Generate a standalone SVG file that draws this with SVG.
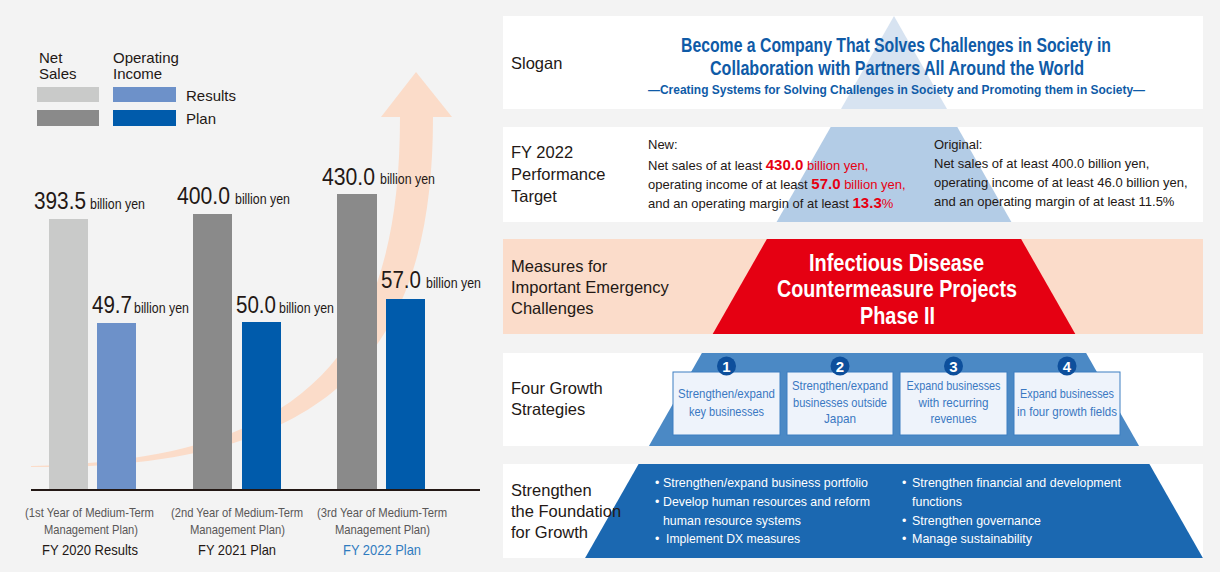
<svg xmlns="http://www.w3.org/2000/svg" width="1220" height="572" viewBox="0 0 1220 572">
<defs><style>
text{font-family:"Liberation Sans",Arial,sans-serif;fill:#231815}
.n{font-family:"Liberation Sans Narrow","Liberation Sans",Arial,sans-serif}
.lab{font-size:16.5px}
.leg{font-size:15px}
.big{font-size:23px}
.by{font-size:14.5px}
.sub{font-size:13px;fill:#595757}
.fy{font-size:15px}
.slo{font-weight:bold;fill:#0f5ba7}
.t13{font-size:13px}
.red{fill:#e60012}
.rb{fill:#e60012;font-weight:bold;font-size:15px}
.wt{fill:#fff;font-weight:bold;font-size:24px}
.box{fill:#eef3fb;stroke:#3d7fc2;stroke-width:1}
.bt{font-size:13.5px;fill:#3a78c2}
.num{fill:#fff;font-weight:bold;font-size:15px}
.bul{fill:#fff;font-size:13.5px}
.dot{fill:#fff;font-size:12.5px}
.panel{fill:#fff}
</style></defs>
<rect x="0" y="0" width="1220" height="572" fill="#f3f3f3"/>

<!-- Left chart -->
<g id="legend">
<text class="leg" x="39" y="63">Net</text>
<text class="leg" x="39" y="79">Sales</text>
<text class="leg" x="113" y="63">Operating</text>
<text class="leg" x="113" y="79">Income</text>
<rect x="37" y="87" width="62" height="15" fill="#c9cac9"/>
<rect x="113" y="87" width="63" height="15" fill="#6d91c9"/>
<rect x="37" y="110" width="62" height="16" fill="#8a8a8a"/>
<rect x="113" y="110" width="63" height="16" fill="#005bab"/>
<text class="leg" x="186" y="101">Results</text>
<text class="leg" x="186" y="124">Plan</text>
</g>
<g id="growth-arrow">
<path d="M31 466 C300 460 400 360 400 117 L381 117 L416 72 L452 117 L433 117 C433 350 335 470 31 467 Z" fill="#fbdcc9"/>
</g>
<g id="bars">
<rect x="49" y="219" width="39" height="271" fill="#c9cac9"/>
<rect x="97" y="323" width="39" height="167" fill="#6d91c9"/>
<rect x="193" y="214" width="39" height="276" fill="#8a8a8a"/>
<rect x="242" y="322" width="39" height="168" fill="#005bab"/>
<rect x="337" y="194" width="40" height="296" fill="#8a8a8a"/>
<rect x="386" y="299" width="39" height="191" fill="#005bab"/>
<line x1="31" y1="490" x2="480" y2="490" stroke="#231815" stroke-width="2"/>
</g>
<g id="values">
<text class="big" x="34" y="209" textLength="52" lengthAdjust="spacingAndGlyphs">393.5</text>
<text class="by n" x="90" y="209" textLength="55" lengthAdjust="spacingAndGlyphs">billion yen</text>
<text class="big" x="177" y="204" textLength="53" lengthAdjust="spacingAndGlyphs">400.0</text>
<text class="by n" x="235" y="204" textLength="55" lengthAdjust="spacingAndGlyphs">billion yen</text>
<text class="big" x="322" y="185" textLength="53" lengthAdjust="spacingAndGlyphs">430.0</text>
<text class="by n" x="380" y="184" textLength="55" lengthAdjust="spacingAndGlyphs">billion yen</text>
<text class="big" x="92" y="313" textLength="40" lengthAdjust="spacingAndGlyphs">49.7</text>
<text class="by n" x="134" y="313" textLength="55" lengthAdjust="spacingAndGlyphs">billion yen</text>
<text class="big" x="236" y="313" textLength="40" lengthAdjust="spacingAndGlyphs">50.0</text>
<text class="by n" x="279" y="313" textLength="55" lengthAdjust="spacingAndGlyphs">billion yen</text>
<text class="big" x="381" y="288" textLength="40" lengthAdjust="spacingAndGlyphs">57.0</text>
<text class="by n" x="426" y="288" textLength="55" lengthAdjust="spacingAndGlyphs">billion yen</text>
</g>
<g id="axis-labels" text-anchor="middle">
<text class="sub n" x="89.5" y="517" textLength="129" lengthAdjust="spacingAndGlyphs">(1st Year of Medium-Term</text>
<text class="sub n" x="91" y="534" textLength="94" lengthAdjust="spacingAndGlyphs">Management Plan)</text>
<text class="fy n" x="90" y="555" textLength="96" lengthAdjust="spacingAndGlyphs">FY 2020 Results</text>
<text class="sub n" x="237" y="517" textLength="132" lengthAdjust="spacingAndGlyphs">(2nd Year of Medium-Term</text>
<text class="sub n" x="237.5" y="534" textLength="95" lengthAdjust="spacingAndGlyphs">Management Plan)</text>
<text class="fy n" x="237" y="555" textLength="78" lengthAdjust="spacingAndGlyphs">FY 2021 Plan</text>
<text class="sub n" x="382" y="517" textLength="130" lengthAdjust="spacingAndGlyphs">(3rd Year of Medium-Term</text>
<text class="sub n" x="382.5" y="534" textLength="95" lengthAdjust="spacingAndGlyphs">Management Plan)</text>
<text class="fy n" x="382" y="555" textLength="78" lengthAdjust="spacingAndGlyphs" style="fill:#2f7bbf">FY 2022 Plan</text>
</g>

<!-- Right pyramid -->
<g id="slogan">
<rect class="panel" x="503" y="16" width="700" height="93"/>
<polygon points="894,16 841,109 947,109" fill="#d7e3f1"/>
<text class="lab" x="511" y="69">Slogan</text>
<text class="slo n" x="896" y="52" font-size="20" text-anchor="middle" textLength="430" lengthAdjust="spacingAndGlyphs">Become a Company That Solves Challenges in Society in</text>
<text class="slo n" x="897" y="75" font-size="20" text-anchor="middle" textLength="374" lengthAdjust="spacingAndGlyphs">Collaboration with Partners All Around the World</text>
<text class="slo n" x="896.5" y="94" font-size="13.5" text-anchor="middle" textLength="497" lengthAdjust="spacingAndGlyphs">—Creating Systems for Solving Challenges in Society and Promoting them in Society—</text>
</g>
<g id="target">
<rect class="panel" x="503" y="127" width="700" height="95"/>
<polygon points="830.7,127 957.3,127 1011.4,222 776.6,222" fill="#b3cce6"/>
<text class="lab" x="511" y="158">FY 2022</text>
<text class="lab" x="511" y="180">Performance</text>
<text class="lab" x="511" y="202">Target</text>
<text class="t13" x="648" y="149">New:</text>
<text class="t13" x="648" y="170">Net sales of at least <tspan class="rb">430.0</tspan><tspan class="red"> billion yen,</tspan></text>
<text class="t13" x="648" y="189">operating income of at least <tspan class="rb">57.0</tspan><tspan class="red"> billion yen,</tspan></text>
<text class="t13" x="648" y="208">and an operating margin of at least <tspan class="rb">13.3</tspan><tspan class="red">%</tspan></text>
<text class="t13" x="934" y="149">Original:</text>
<text class="t13" x="934" y="168">Net sales of at least 400.0 billion yen,</text>
<text class="t13" x="934" y="187">operating income of at least 46.0 billion yen,</text>
<text class="t13" x="934" y="206">and an operating margin of at least 11.5%</text>
</g>
<g id="measures">
<rect x="503" y="239" width="700" height="95" fill="#fbdcca"/>
<polygon points="766.9,239 1021.1,239 1075.3,334 712.7,334" fill="#e50012"/>
<text class="lab" x="511" y="272">Measures for</text>
<text class="lab" x="511" y="293">Important Emergency</text>
<text class="lab" x="511" y="314">Challenges</text>
<text class="wt n" x="896.5" y="271" text-anchor="middle" textLength="175" lengthAdjust="spacingAndGlyphs">Infectious Disease</text>
<text class="wt n" x="897" y="297" text-anchor="middle" textLength="240" lengthAdjust="spacingAndGlyphs">Countermeasure Projects</text>
<text class="wt n" x="897.5" y="324" text-anchor="middle" textLength="75" lengthAdjust="spacingAndGlyphs">Phase II</text>
</g>
<g id="strategies">
<rect class="panel" x="503" y="353" width="700" height="93"/>
<polygon points="701.9,353 1086.1,353 1139.1,446 648.9,446" fill="#4b89c5"/>
<text class="lab" x="511" y="394">Four Growth</text>
<text class="lab" x="511" y="415">Strategies</text>
<g id="strategy-1">
<rect class="box" x="673" y="372" width="107" height="63"/>
<circle cx="726.5" cy="366" r="9.5" fill="#0d4f9c"/>
<text class="num" x="726.5" y="371.5" text-anchor="middle">1</text>
<text class="bt n" x="726.5" y="398" text-anchor="middle" textLength="97" lengthAdjust="spacingAndGlyphs">Strengthen/expand</text>
<text class="bt n" x="726.5" y="416" text-anchor="middle" textLength="75" lengthAdjust="spacingAndGlyphs">key businesses</text>
</g>
<g id="strategy-2">
<rect class="box" x="787" y="372" width="106" height="63"/>
<circle cx="840" cy="366" r="9.5" fill="#0d4f9c"/>
<text class="num" x="840" y="371.5" text-anchor="middle">2</text>
<text class="bt n" x="840" y="390" text-anchor="middle" textLength="96" lengthAdjust="spacingAndGlyphs">Strengthen/expand</text>
<text class="bt n" x="840" y="407" text-anchor="middle" textLength="94" lengthAdjust="spacingAndGlyphs">businesses outside</text>
<text class="bt n" x="840" y="423" text-anchor="middle" textLength="32" lengthAdjust="spacingAndGlyphs">Japan</text>
</g>
<g id="strategy-3">
<rect class="box" x="900" y="372" width="107" height="63"/>
<circle cx="953.5" cy="366" r="9.5" fill="#0d4f9c"/>
<text class="num" x="953.5" y="371.5" text-anchor="middle">3</text>
<text class="bt n" x="953.5" y="390" text-anchor="middle" textLength="94" lengthAdjust="spacingAndGlyphs">Expand businesses</text>
<text class="bt n" x="953.5" y="407" text-anchor="middle" textLength="70" lengthAdjust="spacingAndGlyphs">with recurring</text>
<text class="bt n" x="953.5" y="423" text-anchor="middle" textLength="46" lengthAdjust="spacingAndGlyphs">revenues</text>
</g>
<g id="strategy-4">
<rect class="box" x="1014" y="372" width="106" height="63"/>
<circle cx="1067" cy="366" r="9.5" fill="#0d4f9c"/>
<text class="num" x="1067" y="371.5" text-anchor="middle">4</text>
<text class="bt n" x="1067" y="398" text-anchor="middle" textLength="94" lengthAdjust="spacingAndGlyphs">Expand businesses</text>
<text class="bt n" x="1067" y="416" text-anchor="middle" textLength="100" lengthAdjust="spacingAndGlyphs">in four growth fields</text>
</g>
</g>
<g id="foundation">
<rect class="panel" x="503" y="464" width="700" height="94"/>
<polygon points="638.6,464 1149.4,464 1202.9,558 585.1,558" fill="#1b68b1"/>
<text class="lab" x="511" y="496">Strengthen</text>
<text class="lab" x="511" y="517">the Foundation</text>
<text class="lab" x="511" y="538">for Growth</text>
<text class="dot" x="655" y="487">•</text>
<text class="bul n" x="663" y="487" textLength="205" lengthAdjust="spacingAndGlyphs">Strengthen/expand business portfolio</text>
<text class="dot" x="655" y="506">•</text>
<text class="bul n" x="663" y="506" textLength="207" lengthAdjust="spacingAndGlyphs">Develop human resources and reform</text>
<text class="bul n" x="663" y="525" textLength="138" lengthAdjust="spacingAndGlyphs">human resource systems</text>
<text class="dot" x="655" y="543">•</text>
<text class="bul n" x="666" y="543" textLength="134" lengthAdjust="spacingAndGlyphs">Implement DX measures</text>
<text class="dot" x="902" y="487">•</text>
<text class="bul n" x="912" y="487" textLength="209" lengthAdjust="spacingAndGlyphs">Strengthen financial and development</text>
<text class="bul n" x="912" y="506" textLength="50" lengthAdjust="spacingAndGlyphs">functions</text>
<text class="dot" x="902" y="525">•</text>
<text class="bul n" x="912" y="525" textLength="129" lengthAdjust="spacingAndGlyphs">Strengthen governance</text>
<text class="dot" x="902" y="543">•</text>
<text class="bul n" x="912" y="543" textLength="120" lengthAdjust="spacingAndGlyphs">Manage sustainability</text>
</g>
</svg>
